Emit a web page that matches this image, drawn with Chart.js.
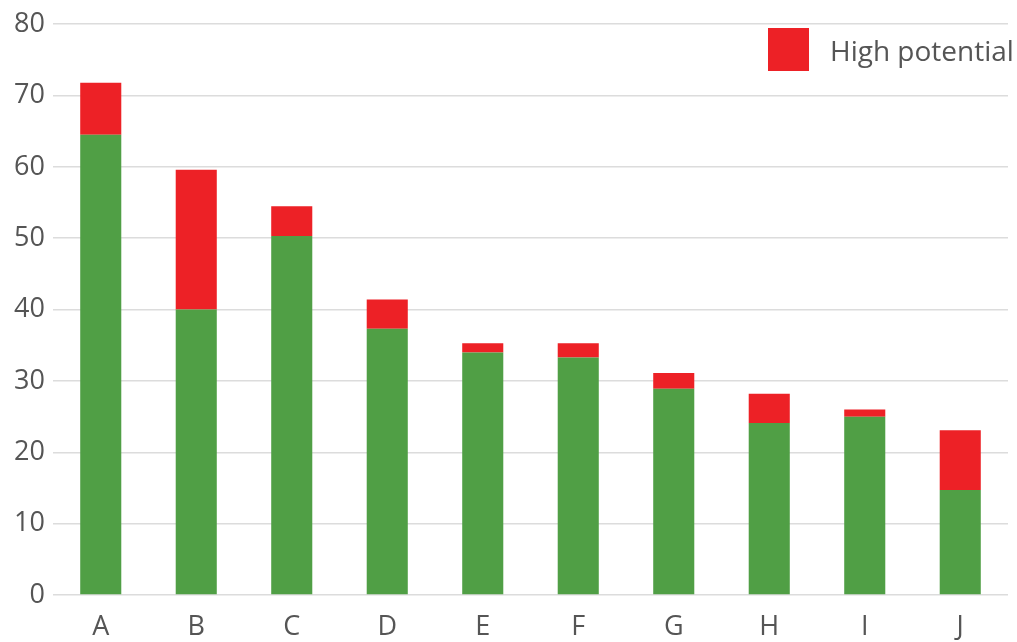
<!DOCTYPE html>
<html>
<head>
<meta charset="utf-8">
<script src="https://cdn.jsdelivr.net/npm/chart.js@4/dist/chart.umd.min.js"></script>
<style>
  html, body { margin: 0; padding: 0; background: #fff; }
  #wrap { position: relative; width: 1017px; height: 642px; }
  #legend { position: absolute; left: 768px; top: 28px; display: flex; align-items: center;
            font-family: "Open Sans", sans-serif; font-size: 28px; color: #555; }
  #legend .box { width: 41px; height: 43px; margin-right: 21px; }
</style>
</head>
<body>
<div id="wrap">
  <canvas id="chart" width="1017" height="642"></canvas>
  <div id="legend"></div>
</div>
<script>
(() => {
  'use strict'

  const categories = ['A', 'B', 'C', 'D', 'E', 'F', 'G', 'H', 'I', 'J'];
  const baseValues = [64.5, 40.0, 50.3, 37.3, 34.0, 33.3, 28.9, 24.1, 25.0, 14.7];
  const highPotential = [7.3, 19.6, 4.2, 4.1, 1.3, 2.0, 2.2, 4.1, 1.0, 8.4];
  const yTicks = [0, 10, 20, 30, 40, 50, 60, 70, 80];

  const green = '#509f45';
  const red = '#ed2126';
  const textColor = '#555';

  const canvasElem = document.getElementById('chart');

  const chart = new Chart(canvasElem, {
    type: 'bar',
    data: {
      labels: categories,
      datasets: [
        { label: 'Base', data: baseValues, backgroundColor: green, showInLegend: false },
        { label: 'High potential', data: highPotential, backgroundColor: red, showInLegend: true }
      ]
    },
    options: {
      responsive: false,
      animation: false,
      datasets: {
        bar: { categoryPercentage: 1.0, barPercentage: 0.43 }
      },
      layout: { padding: { top: 24, right: 9, left: 0, bottom: 0 } },
      scales: {
        x: {
          stacked: true,
          afterFit: axis => { axis.height = 47 },
          grid: { display: false, drawTicks: false },
          border: { display: false },
          ticks: { color: textColor, padding: 16, font: { family: 'Open Sans', size: 27 } }
        },
        y: {
          stacked: true,
          min: yTicks[0],
          max: yTicks[yTicks.length - 1],
          afterBuildTicks: axis => { axis.ticks = yTicks.map(v => ({ value: v })) },
          afterFit: axis => { axis.width = 53 },
          grid: { color: '#dcdcdc', lineWidth: 1.5, drawTicks: false },
          border: { display: false },
          ticks: { color: textColor, padding: 8, font: { family: 'Open Sans', size: 27 } }
        }
      },
      plugins: {
        legend: { display: false },
        tooltip: { enabled: false }
      }
    }
  });

  const legendElem = document.getElementById('legend');
  chart.data.datasets.filter(ds => ds.showInLegend).forEach(ds => {
    const box = document.createElement('span');
    box.className = 'box';
    box.style.background = ds.backgroundColor;
    const label = document.createElement('span');
    label.textContent = ds.label;
    legendElem.appendChild(box);
    legendElem.appendChild(label);
  });
})()
</script>
</body>
</html>
